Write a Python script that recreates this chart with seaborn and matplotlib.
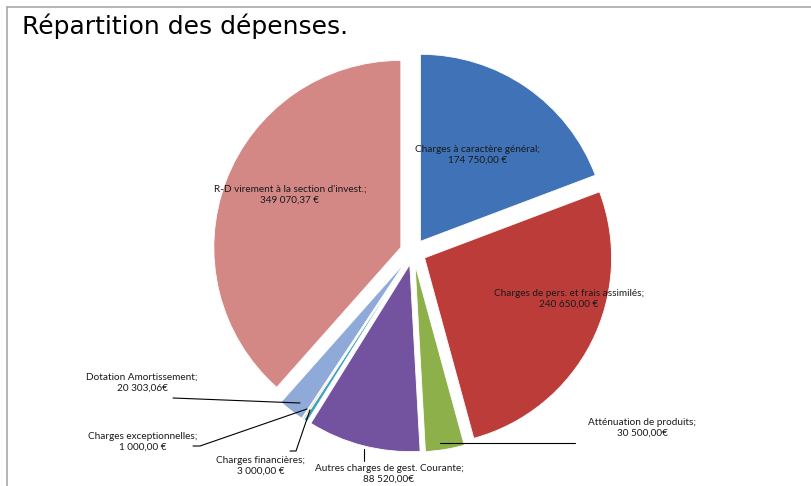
import matplotlib
matplotlib.use("Agg")
import matplotlib.pyplot as plt
from matplotlib.lines import Line2D
import seaborn as sns

# slices, clockwise from 12 o'clock
categories = [
    "Charges à caractère général",
    "Charges de pers. et frais assimilés",
    "Atténuation de produits",
    "Autres charges de gest. Courante",
    "Charges financières",
    "Charges exceptionnelles",
    "Dotation Amortissement",
    "R-D virement à la section d'invest.",
]
values = [174750.00, 240650.00, 30500.00, 88520.00, 3000.00, 1000.00, 20303.06, 349070.37]
value_text = [
    "174 750,00 €", "240 650,00 €", "30 500,00€", "88 520,00€",
    "3 000,00 €", "1 000,00 €", "20 303,06€", "349 070,37 €",
]
colors = ["#3F72B7", "#BC3C3A", "#8DB04A", "#7352A0",
          "#3FA3BE", "#F08A3A", "#8FAAD8", "#D48886"]

sns.set_theme(style="white")
plt.rcParams["font.family"] = ["Lato", "DejaVu Sans"]

W, H = 812, 486
CX, CY, R = 413, 252, 187   # pixel layout (y from top)
GAP = 13                    # explode offset, pixels


def px(x, y):
    return x, H - y


fig = plt.figure(figsize=(W / 100, H / 100), dpi=100)
ax = fig.add_axes([0, 0, 1, 1])

palette = sns.color_palette(colors)
ax.pie(values, colors=palette, startangle=90, counterclock=False,
       explode=[GAP] * len(values), center=px(CX, CY), radius=R,
       wedgeprops=dict(linewidth=0.6, edgecolor="white"))
ax.set_xlim(0, W)
ax.set_ylim(0, H)
ax.set_aspect("equal")
ax.axis("off")

# label positions (pixel layout)
label_pos = [(478, 155), (569, 299), (642, 428), (389, 474),
             (261, 466), (143, 442), (142, 383), (290, 195)]
for name, val, (x, y) in zip(categories, value_text, label_pos):
    ax.text(*px(x, y), f"{name};\n{val}", ha="center", va="center",
            fontsize=7.2, color="#1a1a1a", linespacing=1.3)

leaders = [
    [(440, 443), (575, 443)],
    [(364, 449), (364, 461)],
    [(310, 410), (296, 451), (290, 451)],
    [(307, 409), (200, 446), (193, 446)],
    [(300, 403), (173, 398)],
]
for pts in leaders:
    xs = [p[0] for p in pts]
    ys = [H - p[1] for p in pts]
    ax.plot(xs, ys, color="black", lw=0.8)

fig.text(22 / W, 1 - 26 / H, "Répartition des dépenses.", fontsize=18,
         family="DejaVu Sans", ha="left", va="center", color="black")

# frame lines at top and left
fig.add_artist(Line2D([7 / W, 1], [1 - 7 / H, 1 - 7 / H], color="#A8A8A8", lw=1.2))
fig.add_artist(Line2D([7 / W, 7 / W], [0, 1 - 7 / H], color="#A8A8A8", lw=1.2))

fig.savefig("out.png", dpi=100)
